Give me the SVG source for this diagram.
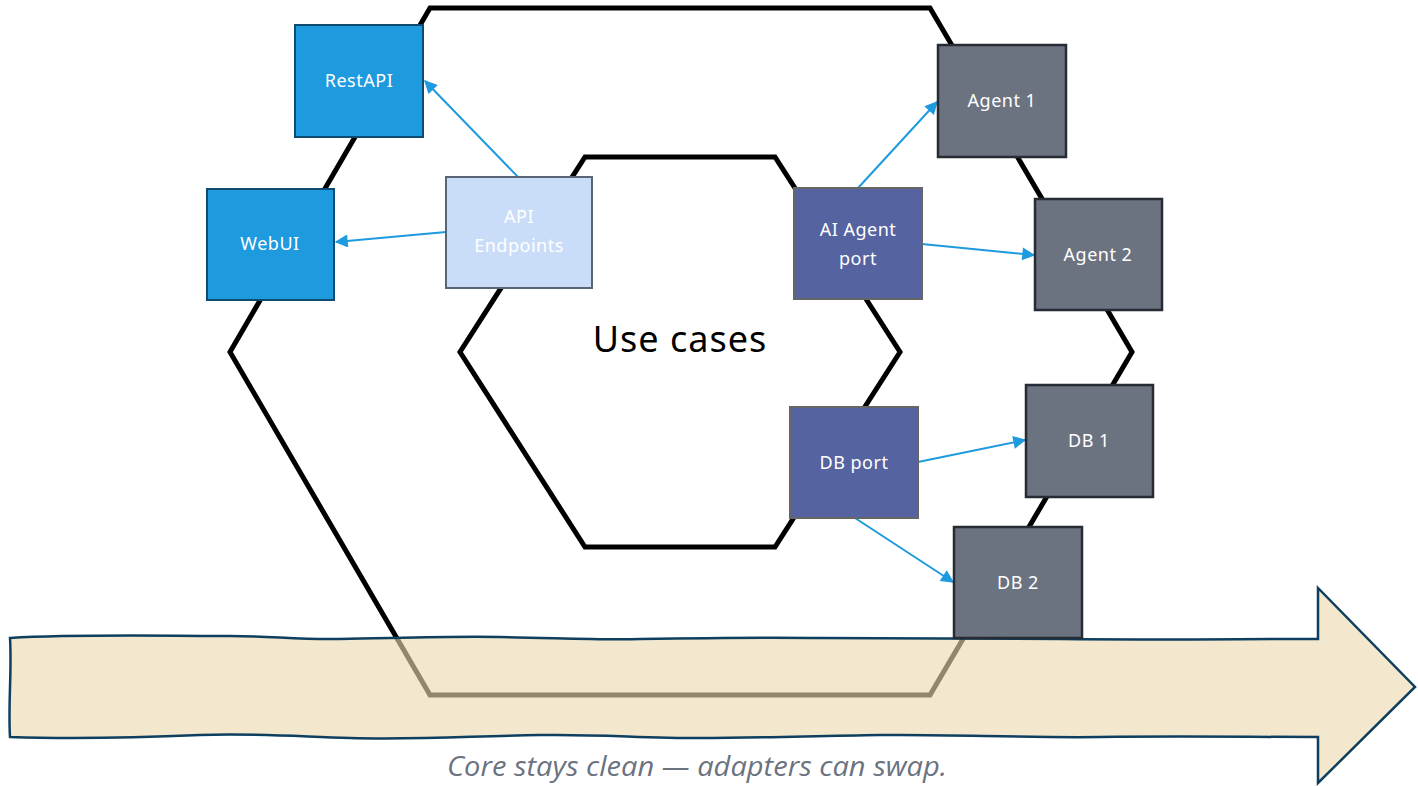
<svg xmlns="http://www.w3.org/2000/svg" width="1418" height="786" viewBox="0 0 1418 786">
<defs>
<style>
.hex{fill:none;stroke:#000;stroke-width:5;stroke-linejoin:miter}
.lbl{font-family:"Noto Sans","DejaVu Sans",sans-serif;font-size:18px;fill:#fff;text-anchor:middle;letter-spacing:0.5px}
.blue{fill:#1E9ADF;stroke:#0F4A70;stroke-width:2}
.light{fill:#C9DCF8;stroke:#5A6478;stroke-width:2}
.port{fill:#5563A0;stroke:#666;stroke-width:2}
.ext{fill:#6B7280;stroke:#272B33;stroke-width:2.5}
.con{stroke:#1E9ADF;stroke-width:2;fill:none}
</style>
<marker id="ah" viewBox="0 0 10 10" refX="9" refY="5" markerWidth="15" markerHeight="13" orient="auto" markerUnits="userSpaceOnUse">
<path d="M0,0 L10,5 L0,10 z" fill="#1E9ADF"/>
</marker>
</defs>
<rect width="1418" height="786" fill="#fff"/>
<g id="hexagons">
<polygon class="hex" points="430,8 930,8 1132,352 930,695 430,695 230,352"/>
<polygon class="hex" points="585,157 775,157 900,352 775,547 585,547 460,352"/>
</g>
<g id="use-cases">
<text x="680" y="352" font-family="'Noto Sans','DejaVu Sans',sans-serif" font-size="36" text-anchor="middle" fill="#000" letter-spacing="1">Use cases</text>
</g>
<g id="timeline">
<path d="M10,638 C80,634 160,636 230,636 C270,636 300,640 340,639 C400,638 450,636 500,637 C560,638 600,640 640,639 C700,638 760,637 820,638 C900,639 980,638 1060,639 C1150,640 1240,639 1318,639 L1318,588 L1415,687 L1318,783 L1318,737 C1250,737 1180,736 1100,737 C1020,738 950,734 880,735 C810,736 760,738 700,738 C640,738 600,734 540,735 C470,736 420,740 350,738 C290,736 250,733 200,735 C130,738 70,739 10,737 C8,705 12,670 10,638 Z" fill="#EBD9AE" fill-opacity="0.62" stroke="#0E3F5F" stroke-width="2.5" stroke-linejoin="miter"/>
</g>
<g id="connectors">
<line class="con" marker-end="url(#ah)" x1="518" y1="177" x2="425" y2="81"/>
<line class="con" marker-end="url(#ah)" x1="446" y1="232" x2="336" y2="242"/>
<line class="con" marker-end="url(#ah)" x1="858" y1="188" x2="937" y2="102"/>
<line class="con" marker-end="url(#ah)" x1="922" y1="244" x2="1034" y2="255"/>
<line class="con" marker-end="url(#ah)" x1="918" y1="462" x2="1025" y2="440"/>
<line class="con" marker-end="url(#ah)" x1="855" y1="518" x2="953" y2="582"/>
</g>
<g id="restapi"><rect class="blue" x="295" y="25" width="128" height="112"/><text class="lbl" x="359" y="87">RestAPI</text></g>
<g id="webui"><rect class="blue" x="207" y="189" width="127" height="111"/><text class="lbl" x="270" y="250">WebUI</text></g>
<g id="api-endpoints"><rect class="light" x="446" y="177" width="146" height="111"/><text class="lbl" x="519" y="223">API</text><text class="lbl" x="519" y="252">Endpoints</text></g>
<g id="ai-agent-port"><rect class="port" x="794" y="188" width="128" height="111"/><text class="lbl" x="858" y="236">AI Agent</text><text class="lbl" x="858" y="265">port</text></g>
<g id="agent1"><rect class="ext" x="938" y="45" width="128" height="112"/><text class="lbl" x="1002" y="107">Agent 1</text></g>
<g id="agent2"><rect class="ext" x="1035" y="199" width="127" height="111"/><text class="lbl" x="1098" y="261">Agent 2</text></g>
<g id="db-port"><rect class="port" x="790" y="407" width="128" height="111"/><text class="lbl" x="854" y="469">DB port</text></g>
<g id="db1"><rect class="ext" x="1026" y="385" width="127" height="112"/><text class="lbl" x="1089" y="447">DB 1</text></g>
<g id="db2"><rect class="ext" x="954" y="527" width="128" height="111"/><text class="lbl" x="1018" y="589">DB 2</text></g>
<g id="caption">
<text x="697" y="776" font-family="'Open Sans','Noto Sans',sans-serif" font-style="italic" font-size="27" fill="#6B7280" text-anchor="middle" textLength="500" lengthAdjust="spacingAndGlyphs">Core stays clean — adapters can swap.</text>
</g>
</svg>
